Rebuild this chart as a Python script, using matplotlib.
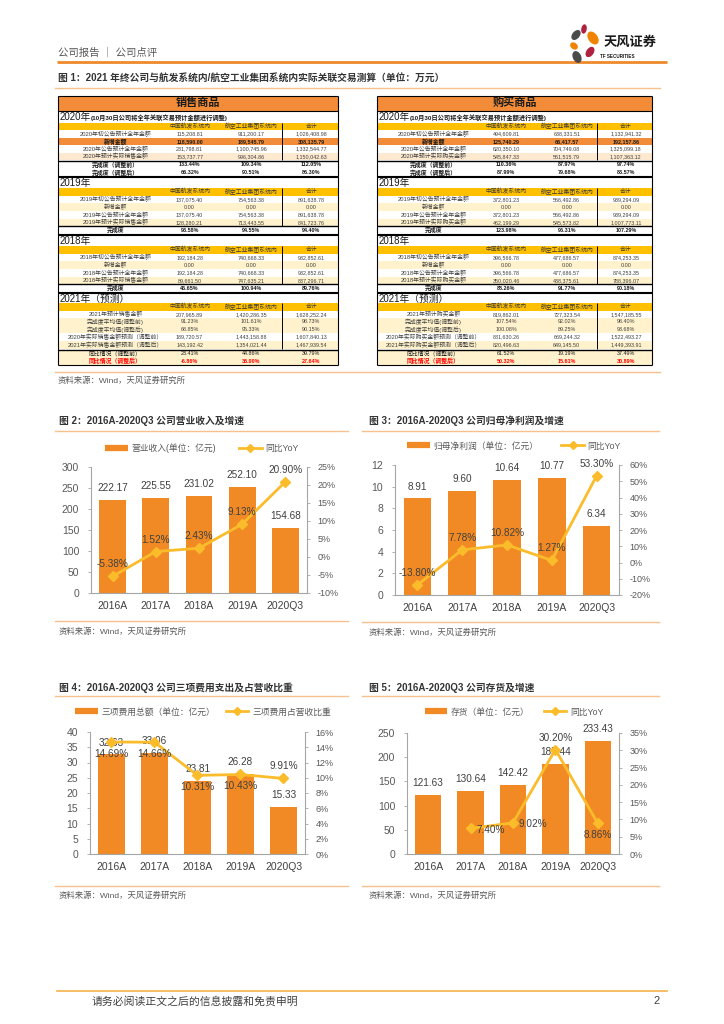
import numpy as np
import matplotlib
matplotlib.use('Agg')
import matplotlib.pyplot as plt
from matplotlib.patches import Rectangle, Ellipse
from matplotlib.lines import Line2D

plt.rcParams['font.family'] = ['Liberation Sans', 'Noto Sans CJK SC', 'DejaVu Sans']
plt.rcParams['axes.unicode_minus'] = False

# ---------------- data: table ----------------
table_cols = ['中国航发系统内', '航空工业集团系统内', '合计']
note_2020 = '(10月30日公司将全年关联交易预计金额进行调整)'

sell_2020_labels = ['2020年初公告预计全年金额', '新增金额', '2020年公告预计全年金额', '2020年预计实际销售金额']
sell_2020_vals = [['115,208.81', '911,200.17', '1,026,408.98'],
                  ['118,590.00', '189,545.79', '308,135.79'],
                  ['231,798.81', '1,100,745.96', '1,332,544.77'],
                  ['153,737.77', '996,304.86', '1,150,042.63']]
sell_2020_sum_labels = ['完成度（调整前）', '完成度（调整后）']
sell_2020_sum_vals = [['133.44%', '109.34%', '112.05%'], ['66.32%', '90.51%', '86.30%']]

sell_2019_labels = ['2019年初公告预计全年金额', '新增金额', '2019年公告预计全年金额', '2019年预计实际销售金额']
sell_2019_vals = [['137,075.40', '754,563.38', '891,638.78'],
                  ['0.00', '0.00', '0.00'],
                  ['137,075.40', '754,563.38', '891,638.78'],
                  ['128,280.21', '713,443.55', '841,723.76']]
sell_2019_sum = ['93.58%', '94.55%', '94.40%']

sell_2018_labels = ['2018年初公告预计全年金额', '新增金额', '2018年公告预计全年金额', '2018年预计实际销售金额']
sell_2018_vals = [['192,184.28', '740,668.33', '932,852.61'],
                  ['0.00', '0.00', '0.00'],
                  ['192,184.28', '740,668.33', '932,852.61'],
                  ['89,661.50', '747,635.21', '837,296.71']]
sell_2018_sum = ['46.65%', '100.94%', '89.76%']

sell_2021_labels = ['2021年预计销售金额', '完成度平均值(调整前)', '完成度平均值(调整后)',
                    '2020年实际销售金额预测（调整前）', '2021年实际销售金额预测（调整后）']
sell_2021_vals = [['207,965.89', '1,420,286.35', '1,628,252.24'],
                  ['91.23%', '101.61%', '98.73%'],
                  ['68.85%', '95.33%', '90.15%'],
                  ['189,720.57', '1,443,158.88', '1,607,840.13'],
                  ['143,192.42', '1,354,021.44', '1,467,939.54']]
sell_2021_sum_labels = ['同比情况（调整前）', '同比情况（调整后）']
sell_2021_sum_vals = [['23.41%', '44.86%', '39.79%'], ['-6.86%', '35.90%', '27.64%']]

buy_2020_labels = ['2020年初公告预计全年金额', '新增金额', '2020年公告预计全年金额', '2020年预计实际购买金额']
buy_2020_vals = [['494,609.81', '638,331.51', '1,132,941.32'],
                 ['125,740.29', '66,417.57', '192,157.86'],
                 ['620,350.10', '704,749.08', '1,325,099.18'],
                 ['545,847.33', '561,515.79', '1,107,363.12']]
buy_2020_sum_labels = ['完成度（调整前）', '完成度（调整后）']
buy_2020_sum_vals = [['110.36%', '87.97%', '97.74%'], ['87.99%', '79.68%', '83.57%']]

buy_2019_labels = ['2019年初公告预计全年金额', '新增金额', '2019年公告预计全年金额', '2019年预计实际购买金额']
buy_2019_vals = [['372,801.23', '566,492.86', '939,294.09'],
                 ['0.00', '0.00', '0.00'],
                 ['372,801.23', '566,492.86', '939,294.09'],
                 ['462,199.29', '545,573.82', '1,007,773.11']]
buy_2019_sum = ['123.98%', '96.31%', '107.29%']

buy_2018_labels = ['2018年初公告预计全年金额', '新增金额', '2018年公告预计全年金额', '2018年预计实际购买金额']
buy_2018_vals = [['396,566.78', '477,686.57', '874,253.35'],
                 ['0.00', '0.00', '0.00'],
                 ['396,566.78', '477,686.57', '874,253.35'],
                 ['350,020.46', '438,375.61', '788,396.07']]
buy_2018_sum = ['88.26%', '91.77%', '90.18%']

buy_2021_labels = ['2021年预计购买金额', '完成度平均值(调整前)', '完成度平均值(调整后)',
                   '2020年实际购买金额预测（调整前）', '2021年实际购买金额预测（调整后）']
buy_2021_vals = [['819,862.01', '727,323.54', '1,547,185.55'],
                 ['107.54%', '92.02%', '98.40%'],
                 ['100.08%', '89.25%', '93.68%'],
                 ['881,630.26', '669,244.32', '1,522,493.27'],
                 ['820,496.63', '649,145.50', '1,449,393.91']]
buy_2021_sum_labels = ['同比情况（调整前）', '同比情况（调整后）']
buy_2021_sum_vals = [['61.52%', '19.19%', '37.49%'], ['50.32%', '15.61%', '30.89%']]

# ---------------- data: charts ----------------
cats = ['2016A', '2017A', '2018A', '2019A', '2020Q3']
revenue = [222.17, 225.55, 231.02, 252.10, 154.68]
revenue_yoy = [-5.38, 1.52, 2.43, 9.13, 20.90]
profit = [8.91, 9.60, 10.64, 10.77, 6.34]
profit_yoy = [-13.80, 7.78, 10.82, 1.27, 53.30]
expense = [32.63, 33.06, 23.81, 26.28, 15.33]
expense_ratio = [14.69, 14.66, 10.31, 10.43, 9.91]
inventory = [121.63, 130.64, 142.42, 185.44, 233.43]
inventory_yoy = [np.nan, 7.40, 9.02, 30.20, 8.86]

# ---------------- style ----------------
W, H = 724, 1024
BAR = '#F18A24'
LINE = '#FBBC2C'
ORANGE = '#F28C38'
YELLOW = '#FFC000'
LYELLOW = '#FFF2CC'
PEACH = '#FDE9D0'
TXT = '#404040'
GRAY = '#595959'
SPINE = '#A6A6A6'
RULE = '#F7C08E'

fig = plt.figure(figsize=(7.24, 10.24), dpi=100)
bg = fig.add_axes([0, 0, 1, 1])
bg.set_xlim(0, W)
bg.set_ylim(H, 0)
bg.axis('off')

# ---------------- header ----------------
bg.text(58, 53, '公司报告 ｜ 公司点评', fontsize=7.5, color=GRAY, va='center', ha='left')
bg.plot([57, 667], [62, 62], color='#EE8A2C', lw=2.0, solid_capstyle='butt')
# logo petals
for (cx, cy, w, h, ang, col) in [(584, 29, 4, 8, 10, '#B0203F'),
                                 (576, 35, 6, 10, 40, '#4A4A4A'),
                                 (593, 38, 8, 13, -35, '#F08300'),
                                 (574, 46, 5, 7, -50, '#F08300'),
                                 (590, 52, 6, 10, 35, '#B0203F'),
                                 (577, 57, 7, 11, -25, '#4A4A4A')]:
    bg.add_patch(Ellipse((cx, cy), w, h, angle=ang, color=col, zorder=3))
bg.text(630, 43, '天风证券', fontsize=9.5, fontweight='bold', color='#1A1A1A', ha='center', va='center')
bg.text(600, 56, 'TF SECURITIES', fontsize=3.3, fontweight='bold', color='#1A1A1A', ha='left', va='center')

bg.text(58, 78, '图 1：2021 年终公司与航发系统内/航空工业集团系统内实际关联交易测算（单位：万元）',
        fontsize=7, fontweight='bold', color='#333333', va='center', ha='left')
bg.plot([55, 660], [88, 88], color=RULE, lw=1.0)

# ---------------- table ----------------
FS_L = 4.2
FS_V = 3.9
fx = [0.205, 0.47, 0.69, 0.905]
fv = 0.80


def rect(x0, y0, x1, y1, col):
    bg.add_patch(Rectangle((x0, y0), x1 - x0, y1 - y0, facecolor=col, edgecolor='none', zorder=1))


def hline(x0, x1, y, lw=0.6):
    bg.plot([x0, x1], [y, y], color='black', lw=lw, zorder=4, solid_capstyle='butt')


def vline(x, y0, y1, lw=0.6):
    bg.plot([x, x], [y0, y1], color='black', lw=lw, zorder=4, solid_capstyle='butt')


def row_text(x0, w, yc, label, vals, color=TXT, weight='normal'):
    bg.text(x0 + fx[0] * w, yc, label, fontsize=FS_L, color=color, weight=weight, ha='center', va='center', zorder=5)
    for k, v in enumerate(vals):
        bg.text(x0 + fx[k + 1] * w, yc, v, fontsize=FS_V, color=color, weight=weight, ha='center', va='center', zorder=5)


def section(x0, x1, y_year, y_hdr, y_rows, row_h, year_txt, note, labels, vals, styles,
            sum_top, sum_h, sum_labels, sum_vals, sum_styles, sum_fill='white'):
    w = x1 - x0
    hline(x0, x1, y_year, 0.8)
    bg.text(x0 + 2, (y_year + y_hdr) / 2 + 0.5, year_txt, fontsize=7, color='#1A1A1A', ha='left', va='center', zorder=5)
    if note:
        bg.text(x0 + 33, (y_year + y_hdr) / 2 + 1, note, fontsize=4.5, weight='bold', color='#1A1A1A',
                ha='left', va='center', zorder=5)
    rect(x0, y_hdr, x1, y_rows, YELLOW)
    for k, c in enumerate(table_cols):
        bg.text(x0 + fx[k + 1] * w, (y_hdr + y_rows) / 2, c, fontsize=FS_L, color='#3A3A3A', ha='center',
                va='center', zorder=5)
    y = y_rows
    for lab, vv, st in zip(labels, vals, styles):
        col = {'w': 'white', 'o': ORANGE, 'ly': LYELLOW, 'p': PEACH}[st]
        rect(x0, y, x1, y + row_h, col)
        if st == 'o':
            row_text(x0, w, y + row_h / 2, lab, vv, color='#1A1A1A', weight='bold')
        else:
            row_text(x0, w, y + row_h / 2, lab, vv)
        y += row_h
    vline(x0 + fv * w, y_hdr, y, 0.7)
    # summary rows
    ys = sum_top
    rect(x0, sum_top, x1, sum_top + sum_h * len(sum_labels), sum_fill)
    hline(x0, x1, sum_top, 1.0)
    for lab, vv, st in zip(sum_labels, sum_vals, sum_styles):
        if st == 'red':
            row_text(x0, w, ys + sum_h / 2, lab, vv, color='#FF0000', weight='bold')
        elif st == 'n':
            row_text(x0, w, ys + sum_h / 2, lab, vv, color='#1A1A1A')
        else:
            row_text(x0, w, ys + sum_h / 2, lab, vv, color='#1A1A1A', weight='bold')
        ys += sum_h
    hline(x0, x1, ys, 0.8)


def block(x0, x1, title, d2020, d2019, d2018, d2021):
    rect(x0, 95.5, x1, 110.5, ORANGE)
    bg.text((x0 + x1) / 2, 103, title, fontsize=8, weight='bold', color='#1A1A1A', ha='center', va='center', zorder=5)
    hline(x0, x1, 95.5, 0.8)
    section(x0, x1, 110.5, 123, 130, 7.6, '2020年', note_2020, d2020[0], d2020[1], ['w', 'o', 'w', 'p'],
            161, 7.5, d2020[2], d2020[3], ['b', 'b'])
    section(x0, x1, 177, 188, 195.5, 7.7, '2019年', None, d2019[0], d2019[1], ['w', 'ly', 'w', 'ly'],
            226.3, 7.7, ['完成度'], [d2019[2]], ['b'])
    section(x0, x1, 235, 246, 253.5, 7.7, '2018年', None, d2018[0], d2018[1], ['w', 'ly', 'w', 'ly'],
            284.3, 7.7, ['完成度'], [d2018[2]], ['b'])
    section(x0, x1, 293, 303, 310.5, 7.6, '2021年（预测）', None, d2021[0], d2021[1], ['w', 'ly', 'ly', 'w', 'ly'],
            350, 7.5, d2021[2], d2021[3], ['n', 'red'], sum_fill=LYELLOW)
    vline(x0, 95.5, 365, 0.8)
    vline(x1, 95.5, 365, 0.8)


block(58, 338, '销售商品',
      (sell_2020_labels, sell_2020_vals, sell_2020_sum_labels, sell_2020_sum_vals),
      (sell_2019_labels, sell_2019_vals, sell_2019_sum),
      (sell_2018_labels, sell_2018_vals, sell_2018_sum),
      (sell_2021_labels, sell_2021_vals, sell_2021_sum_labels, sell_2021_sum_vals))
block(377, 652, '购买商品',
      (buy_2020_labels, buy_2020_vals, buy_2020_sum_labels, buy_2020_sum_vals),
      (buy_2019_labels, buy_2019_vals, buy_2019_sum),
      (buy_2018_labels, buy_2018_vals, buy_2018_sum),
      (buy_2021_labels, buy_2021_vals, buy_2021_sum_labels, buy_2021_sum_vals))

bg.plot([55, 660], [372, 372], color=RULE, lw=1.0)
bg.text(58, 381, '资料来源：Wind，天风证券研究所', fontsize=6, color=GRAY, ha='left', va='center')


# ---------------- charts ----------------
def px_box(l, t, r, b):
    return [l / W, 1 - b / H, (r - l) / W, (b - t) / H]


def chart(title, title_xy, rule_top, rule_bot, src_y, box, bar_vals, line_vals, ylim_l, yticks_l,
          ylim_r, yticks_r, line_pos, legend_labels, legend_xy, colspace):
    tx, ty = title_xy
    bg.text(tx, ty, title, fontsize=7, fontweight='bold', color='#333333', ha='left', va='center')
    bg.plot(rule_top[0], rule_top[1], color=RULE, lw=1.0)
    bg.plot(rule_bot[0], rule_bot[1], color=RULE, lw=1.0)
    bg.text(tx, src_y, '资料来源：Wind，天风证券研究所', fontsize=6, color=GRAY, ha='left', va='center')

    ax = fig.add_axes(px_box(*box))
    x = np.arange(len(cats))
    ax.bar(x, bar_vals, width=0.62, color=BAR, zorder=2)
    ax.set_xlim(-0.5, len(cats) - 0.5)
    ax.set_ylim(*ylim_l)
    ax.set_yticks(yticks_l)
    ax.set_yticklabels([f'{t:g}' for t in yticks_l])
    ax.set_xticks(x)
    ax.set_xticklabels(cats)
    ax.tick_params(axis='x', length=0, pad=6, labelsize=7.5, labelcolor=TXT)
    ax.tick_params(axis='y', length=2.5, width=0.6, color=SPINE, pad=6, labelsize=7.5, labelcolor=GRAY)
    for s in ['top', 'right']:
        ax.spines[s].set_visible(False)
    for s in ['left', 'bottom']:
        ax.spines[s].set_color(SPINE)
        ax.spines[s].set_linewidth(0.8)
    for i, v in enumerate(bar_vals):
        ax.annotate(f'{v:.2f}', (i, v), xytext=(0, 5), textcoords='offset points',
                    ha='center', va='bottom', fontsize=7.2, color=TXT, zorder=3)

    ax2 = ax.twinx()
    ax2.plot(x, line_vals, color=LINE, lw=2, marker='D', ms=5, zorder=4)
    ax2.set_ylim(*ylim_r)
    ax2.set_yticks(yticks_r)
    ax2.set_yticklabels([f'{t:g}%' for t in yticks_r])
    ax2.tick_params(axis='y', length=2.5, width=0.6, color=SPINE, pad=5, labelsize=6.5, labelcolor=GRAY)
    for s in ['top', 'left', 'bottom']:
        ax2.spines[s].set_visible(False)
    ax2.spines['right'].set_color(SPINE)
    ax2.spines['right'].set_linewidth(0.8)
    for i, v in enumerate(line_vals):
        if np.isnan(v):
            continue
        pos = line_pos[i]
        if pos == 'a':
            kw = dict(xytext=(0, 5), ha='center', va='bottom')
        elif pos == 'b':
            kw = dict(xytext=(0, -5), ha='center', va='top')
        else:
            kw = dict(xytext=(4, -1), ha='left', va='center')
        ax2.annotate(f'{v:.2f}%', (i, v), textcoords='offset points', fontsize=7.2, color=TXT, zorder=5, **kw)

    handles = [Line2D([], [], color=BAR, lw=4.5, solid_capstyle='butt'),
               Line2D([], [], color=LINE, lw=2, marker='D', ms=4)]
    lx, ly = legend_xy
    fig.legend(handles, legend_labels, loc='center', bbox_to_anchor=(lx / W, 1 - ly / H), ncol=2,
               frameon=False, fontsize=6.3, handlelength=2.6, handletextpad=0.4, columnspacing=colspace,
               labelcolor=GRAY)


chart('图 2：2016A-2020Q3 公司营业收入及增速', (59, 421),
      ([55, 348], [431, 431]), ([55, 348], [621, 621]), 632,
      (91, 467, 307, 593), revenue, revenue_yoy, (0, 300), list(range(0, 301, 50)),
      (-10, 25), list(range(-10, 26, 5)), ['a', 'a', 'a', 'a', 'a'],
      ['营业收入(单位：亿元)', '同比YoY'], (202, 448), 2.6)

chart('图 3：2016A-2020Q3 公司归母净利润及增速', (369, 421),
      ([362, 659], [431, 431]), ([362, 659], [622, 622]), 633,
      (395, 465, 619, 595), profit, profit_yoy, (0, 12), list(range(0, 13, 2)),
      (-20, 60), list(range(-20, 61, 10)), ['a', 'a', 'a', 'a', 'a'],
      ['归母净利润（单位：亿元）', '同比YoY'], (514, 446), 2.6)

chart('图 4：2016A-2020Q3 公司三项费用支出及占营收比重', (59, 688),
      ([55, 348], [696, 696]), ([55, 348], [886, 886]), 896,
      (90, 732, 305, 854), expense, expense_ratio, (0, 40), list(range(0, 41, 5)),
      (0, 16), list(range(0, 17, 2)), ['b', 'b', 'b', 'b', 'a'],
      ['三项费用总额（单位：亿元）', '三项费用占营收比重'], (203, 712), 1.2)

chart('图 5：2016A-2020Q3 公司存货及增速', (369, 688),
      ([362, 659], [696, 696]), ([362, 659], [886, 886]), 896,
      (407, 733, 619, 854), inventory, inventory_yoy, (0, 250), list(range(0, 251, 50)),
      (0, 35), list(range(0, 36, 5)), ['a', 'r', 'r', 'a', 'b'],
      ['存货（单位：亿元）', '同比YoY'], (514, 712), 1.6)

# ---------------- footer ----------------
bg.plot([57, 667], [991, 991], color='#F4B24A', lw=1.2)
bg.text(92, 1001, '请务必阅读正文之后的信息披露和免责申明', fontsize=7.8, color=TXT, ha='left', va='center')
bg.text(660, 1001, '2', fontsize=8, color=TXT, ha='right', va='center')

fig.savefig('out.png', dpi=100)
